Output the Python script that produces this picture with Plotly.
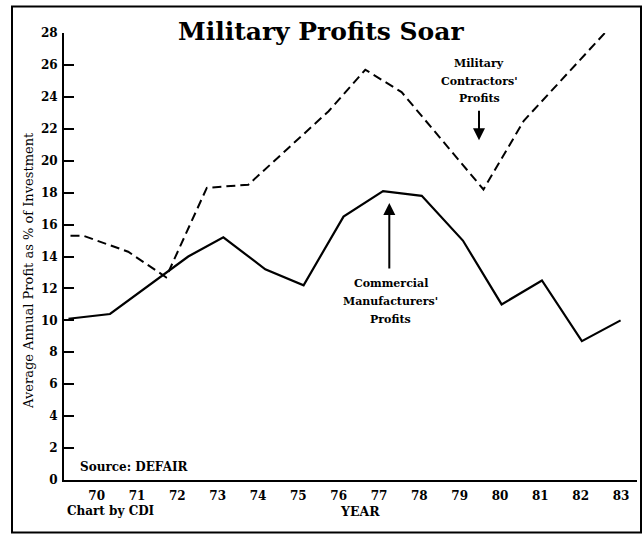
import plotly.graph_objects as go

# ---- data ----
commercial_years = [69.3, 70.33, 72.27, 73.14, 74.18, 75.13, 76.12, 77.1, 78.06, 79.08, 80.04, 81.04, 82.03, 82.99]
commercial_profit = [10.1, 10.4, 14.0, 15.2, 13.2, 12.2, 16.5, 18.1, 17.8, 15.0, 11.0, 12.5, 8.7, 10.0]

military_years = [69.35, 69.67, 70.78, 71.72, 72.73, 73.76, 75.75, 76.66, 77.56, 79.59, 80.59, 82.6]
military_profit = [15.3, 15.3, 14.3, 12.7, 18.3, 18.5, 23.1, 25.7, 24.3, 18.2, 22.5, 28.0]

year_ticks = [70, 71, 72, 73, 74, 75, 76, 77, 78, 79, 80, 81, 82, 83]
year_labels = [str(y) for y in year_ticks]
profit_ticks = list(range(0, 30, 2))

# ---- layout geometry (pixels) ----
W, H = 644, 535
L, R, T, B = 64, 637, 32.5, 480.5
X_RANGE = [70 + (L - 96.7) / 40.33, 70 + (R - 96.7) / 40.33]
Y_RANGE = [0, 28]


def px2x(px):
    return X_RANGE[0] + (px - L) / (R - L) * (X_RANGE[1] - X_RANGE[0])


def px2y(py):
    return Y_RANGE[0] + (B - py) / (B - T) * (Y_RANGE[1] - Y_RANGE[0])


def ppx(px):
    return (px - L) / (R - L)


def ppy(py):
    return (B - py) / (B - T)


SERIF = "DejaVu Serif"

fig = go.Figure()
fig.add_trace(go.Scatter(x=military_years, y=military_profit, mode="lines",
                         line=dict(color="black", width=2, dash="9px,5px"),
                         name="Military Contractors' Profits", cliponaxis=True))
fig.add_trace(go.Scatter(x=commercial_years, y=commercial_profit, mode="lines",
                         line=dict(color="black", width=2.2),
                         name="Commercial Manufacturers' Profits"))

ann = []
# title
ann.append(dict(text="<b>Military Profits Soar</b>", xref="paper", yref="paper",
                x=ppx(321), y=ppy(31), xanchor="center", yanchor="middle", showarrow=False,
                font=dict(family=SERIF, size=25, color="black")))
# y axis title
ann.append(dict(text="Average Annual Profit as % of Investment", xref="paper", yref="paper",
                x=ppx(29), y=ppy(271), xanchor="center", yanchor="middle", textangle=-90,
                showarrow=False, font=dict(family=SERIF, size=13, color="black")))
# source / credit / axis label
ann.append(dict(text="<b>Source: DEFAIR</b>", xref="paper", yref="paper",
                x=ppx(78), y=ppy(467), xanchor="left", yanchor="middle", showarrow=False,
                font=dict(family=SERIF, size=12, color="black")))
ann.append(dict(text="<b>Chart by CDI</b>", xref="paper", yref="paper",
                x=ppx(65), y=ppy(512), xanchor="left", yanchor="middle", showarrow=False,
                font=dict(family=SERIF, size=12, color="black")))
ann.append(dict(text="<b>YEAR</b>", xref="paper", yref="paper",
                x=ppx(360), y=ppy(512), xanchor="center", yanchor="middle", showarrow=False,
                font=dict(family=SERIF, size=12.5, color="black")))
# series labels
for txt, yy in [("Military", 62.7), ("Contractors'", 80.7), ("Profits", 97.7)]:
    ann.append(dict(text="<b>" + txt + "</b>", x=px2x(479), y=px2y(yy), xanchor="center",
                    yanchor="middle", showarrow=False,
                    font=dict(family=SERIF, size=11, color="black")))
for txt, yy in [("Commercial", 283.3), ("Manufacturers'", 301.7), ("Profits", 320)]:
    ann.append(dict(text="<b>" + txt + "</b>", x=px2x(390.8), y=px2y(yy), xanchor="center",
                    yanchor="middle", showarrow=False,
                    font=dict(family=SERIF, size=11, color="black")))
# arrows
ann.append(dict(text="", x=px2x(389.3), y=px2y(203), ax=0, ay=67, showarrow=True,
                arrowhead=2, arrowsize=1.2, arrowwidth=2, arrowcolor="black", standoff=0))
ann.append(dict(text="", x=px2x(479), y=px2y(140), ax=0, ay=-31, showarrow=True,
                arrowhead=2, arrowsize=1.2, arrowwidth=2, arrowcolor="black", standoff=0))

shapes = [dict(type="rect", xref="paper", yref="paper",
               x0=ppx(12), x1=ppx(641), y0=ppy(533), y1=ppy(6),
               line=dict(color="black", width=2), fillcolor="rgba(0,0,0,0)", layer="below")]

fig.update_layout(
    width=W, height=H,
    margin=dict(l=L, r=W - R, t=T, b=H - B),
    paper_bgcolor="white", plot_bgcolor="white",
    showlegend=False,
    annotations=ann, shapes=shapes,
    font=dict(family=SERIF, color="black"),
    xaxis=dict(range=X_RANGE, tickvals=year_ticks, ticktext=year_labels,
               showline=True, linecolor="black", linewidth=2, ticks="",
               showgrid=False, zeroline=False, fixedrange=True, ticklabelstandoff=4,
               tickfont=dict(family=SERIF, size=12, color="black", weight="bold")),
    yaxis=dict(range=Y_RANGE, tickvals=profit_ticks, showline=True, linecolor="black",
               linewidth=2, ticks="inside", ticklen=10, tickwidth=1.5, tickcolor="black",
               showgrid=False, zeroline=False, fixedrange=True, ticklabelstandoff=2,
               tickfont=dict(family=SERIF, size=12, color="black", weight="bold")),
)

fig.write_html("out.html", config={"displayModeBar": False},
               post_script="document.body.style.margin='0';document.body.style.padding='0';")
